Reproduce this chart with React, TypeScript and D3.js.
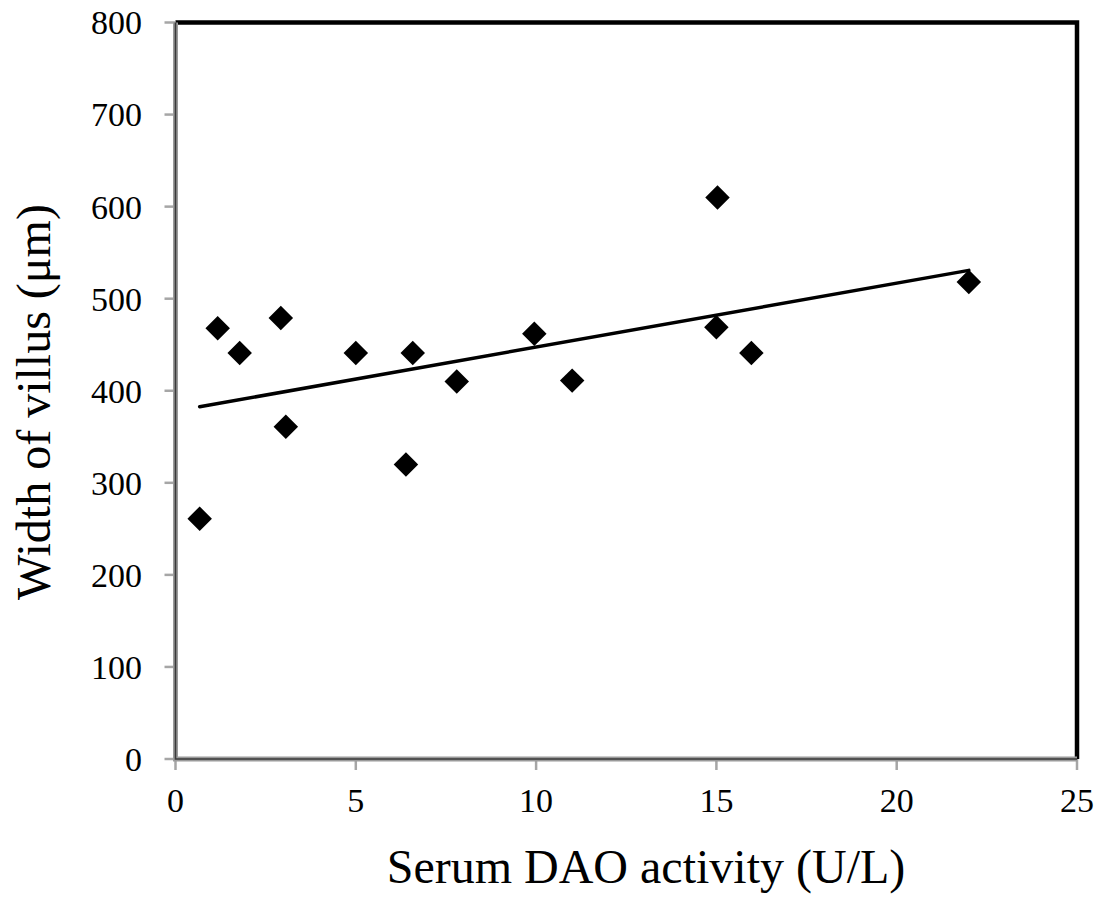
import React, { useEffect, useRef } from 'react'
import * as d3 from 'd3'

// serum DAO activity (U/L) vs width of villus (um)
const daoActivity = [0.67, 1.17, 1.78, 2.92, 3.06, 5.0, 6.39, 6.58, 7.8, 9.95, 11.0, 15.03, 15.0, 15.97, 22.0]
const villusWidth = [261, 468, 441, 479, 361, 441, 320, 441, 410, 462, 411, 610, 469, 441, 518]
const xTicks = [0, 5, 10, 15, 20, 25]
const yTicks = [0, 100, 200, 300, 400, 500, 600, 700, 800]

const W = 1101
const H = 902
const FONT = '"Liberation Serif", "Times New Roman", serif'

export default function App() {
  const svgRef = useRef<SVGSVGElement | null>(null)

  useEffect(() => {
    const svg = d3.select(svgRef.current)
    svg.selectAll('*').remove()

    const left = 175.5
    const right = 1077
    const top = 22.5
    const bottom = 759

    const x = d3.scaleLinear().domain([0, 25]).range([left, right])
    const y = d3.scaleLinear().domain([0, 800]).range([bottom, top])

    const points = daoActivity.map((d, i) => [d, villusWidth[i]] as [number, number])

    // top & right frame (thick black)
    svg
      .append('path')
      .attr('d', `M${left},${top}H${right}V${bottom}`)
      .attr('fill', 'none')
      .attr('stroke', '#000')
      .attr('stroke-width', 4.5)

    // ticks (grey, outside)
    svg
      .selectAll('line.ytick')
      .data(yTicks)
      .enter()
      .append('line')
      .attr('class', 'ytick')
      .attr('x1', left - 11)
      .attr('x2', left)
      .attr('y1', d => y(d))
      .attr('y2', d => y(d))
      .attr('stroke', '#a6a6a6')
      .attr('stroke-width', 2.5)

    svg
      .selectAll('line.xtick')
      .data(xTicks)
      .enter()
      .append('line')
      .attr('class', 'xtick')
      .attr('x1', d => x(d))
      .attr('x2', d => x(d))
      .attr('y1', bottom)
      .attr('y2', bottom + 11)
      .attr('stroke', '#a6a6a6')
      .attr('stroke-width', 2.5)

    // left & bottom axis (grey with dark core)
    const axisPath = `M${left},${top}V${bottom}H${right}`
    svg
      .append('path')
      .attr('d', axisPath)
      .attr('fill', 'none')
      .attr('stroke', '#9a9a9a')
      .attr('stroke-width', 5)
    svg
      .append('path')
      .attr('d', axisPath)
      .attr('fill', 'none')
      .attr('stroke', '#3a3a3a')
      .attr('stroke-width', 1.6)

    // tick labels
    svg
      .selectAll('text.ylab')
      .data(yTicks)
      .enter()
      .append('text')
      .attr('class', 'ylab')
      .text(d => d)
      .attr('x', 142)
      .attr('y', d => y(d))
      .attr('dy', '0.35em')
      .attr('text-anchor', 'end')
      .attr('font-family', FONT)
      .attr('font-size', 34)
      .attr('fill', '#000')

    svg
      .selectAll('text.xlab')
      .data(xTicks)
      .enter()
      .append('text')
      .attr('class', 'xlab')
      .text(d => d)
      .attr('x', d => x(d))
      .attr('y', 812)
      .attr('text-anchor', 'middle')
      .attr('font-family', FONT)
      .attr('font-size', 34)
      .attr('fill', '#000')

    // axis titles
    svg
      .append('text')
      .text('Serum DAO activity (U/L)')
      .attr('x', 646)
      .attr('y', 883)
      .attr('text-anchor', 'middle')
      .attr('font-family', FONT)
      .attr('font-size', 48)
      .attr('fill', '#000')

    svg
      .append('text')
      .text('Width of villus (μm)')
      .attr('transform', 'translate(50,402) rotate(-90)')
      .attr('text-anchor', 'middle')
      .attr('font-family', FONT)
      .attr('font-size', 48)
      .attr('fill', '#000')

    // linear trendline (least squares)
    const mx = d3.mean(daoActivity) as number
    const my = d3.mean(villusWidth) as number
    const sxy = d3.sum(points, p => (p[0] - mx) * (p[1] - my))
    const sxx = d3.sum(points, p => (p[0] - mx) ** 2)
    const slope = sxy / sxx
    const icpt = my - slope * mx
    const [xmin, xmax] = d3.extent(daoActivity) as [number, number]
    const line = d3
      .line<number>()
      .x(d => x(d))
      .y(d => y(icpt + slope * d))

    svg
      .append('path')
      .attr('d', line([xmin, xmax]))
      .attr('fill', 'none')
      .attr('stroke', '#000')
      .attr('stroke-width', 3.5)
      .attr('stroke-linecap', 'round')

    // markers
    const diamond = d3.symbol().type(d3.symbolSquare).size(300)
    svg
      .selectAll('path.pt')
      .data(points)
      .enter()
      .append('path')
      .attr('class', 'pt')
      .attr('d', diamond)
      .attr('transform', d => `translate(${x(d[0])},${y(d[1])}) rotate(45)`)
      .attr('fill', '#000')
  }, [])

  return (
    <svg
      ref={svgRef}
      width={W}
      height={H}
      style={{ position: 'absolute', left: 0, top: 0, background: '#fff' }}
    />
  )
}
